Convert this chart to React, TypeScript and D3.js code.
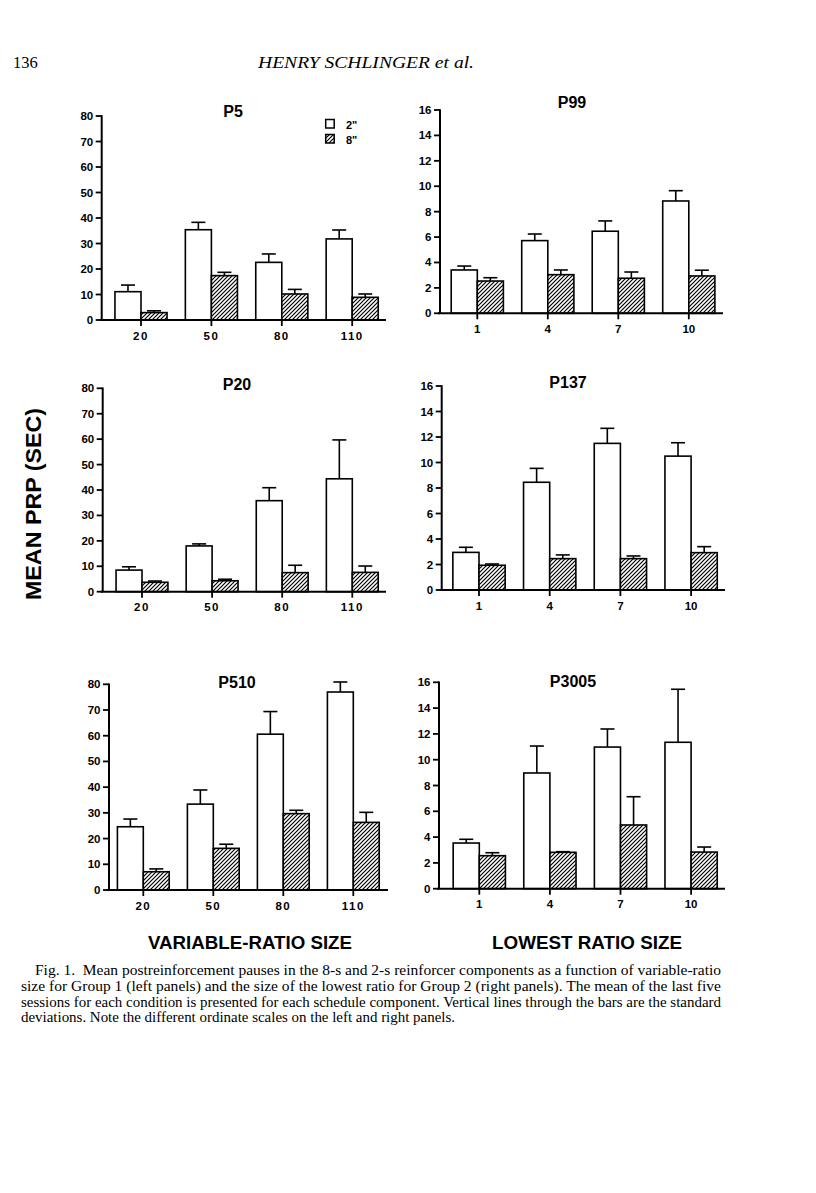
import React from "react";
import * as d3 from "d3";

const leftCategories = ["20", "50", "80", "110"];
const rightCategories = ["1", "4", "7", "10"];
const leftTicks = [0, 10, 20, 30, 40, 50, 60, 70, 80];
const rightTicks = [0, 2, 4, 6, 8, 10, 12, 14, 16];
const seriesNames = ['2"', '8"'];

const p5Mean2 = [11.1, 35.4, 22.6, 31.8];
const p5Sd2 = [2.6, 2.9, 3.3, 3.5];
const p5Mean8 = [2.9, 17.4, 10.2, 8.9];
const p5Sd8 = [0.7, 1.3, 1.8, 1.3];

const p99Mean2 = [3.41, 5.72, 6.46, 8.84];
const p99Sd2 = [0.31, 0.52, 0.81, 0.81];
const p99Mean8 = [2.54, 3.04, 2.76, 2.94];
const p99Sd8 = [0.26, 0.37, 0.49, 0.45];

const p20Mean2 = [8.5, 18.0, 35.8, 44.4];
const p20Sd2 = [1.3, 0.8, 5.1, 15.3];
const p20Mean8 = [3.7, 4.3, 7.5, 7.6];
const p20Sd8 = [0.5, 0.6, 2.9, 2.5];

const p137Mean2 = [2.95, 8.45, 11.5, 10.5];
const p137Sd2 = [0.4, 1.09, 1.18, 1.05];
const p137Mean8 = [1.94, 2.46, 2.46, 2.93];
const p137Sd8 = [0.1, 0.29, 0.21, 0.47];

const p510Mean2 = [24.6, 33.4, 60.6, 77.0];
const p510Sd2 = [3.0, 5.5, 8.8, 3.9];
const p510Mean8 = [7.1, 16.2, 29.7, 26.3];
const p510Sd8 = [1.1, 1.6, 1.3, 3.9];

const p3005Mean2 = [3.54, 8.97, 10.98, 11.35];
const p3005Sd2 = [0.29, 2.09, 1.4, 4.11];
const p3005Mean8 = [2.56, 2.82, 4.94, 2.84];
const p3005Sd8 = [0.23, 0.05, 2.19, 0.39];

const captionLines = [
  "Fig. 1.  Mean postreinforcement pauses in the 8-s and 2-s reinforcer components as a function of variable-ratio",
  "size for Group 1 (left panels) and the size of the lowest ratio for Group 2 (right panels). The mean of the last five",
  "sessions for each condition is presented for each schedule component. Vertical lines through the bars are the standard",
  "deviations. Note the different ordinate scales on the left and right panels.",
];

const SANS = "'Liberation Sans', Arial, Helvetica, sans-serif";
const SERIF = "'Liberation Serif', 'Times New Roman', serif";

type PanelDef = {
  title: string;
  cats: string[];
  ticks: number[];
  max: number;
  m2: number[]; s2: number[]; m8: number[]; s8: number[];
  axisX: number; y0: number; yTop: number; c0: number; step: number; xEnd: number;
  titleX: number; titleY: number; legend?: boolean;
};

const panels: PanelDef[] = [
  { title: "P5", cats: leftCategories, ticks: leftTicks, max: 80, m2: p5Mean2, s2: p5Sd2, m8: p5Mean8, s8: p5Sd8,
    axisX: 101.7, y0: 320, yTop: 116, c0: 141, step: 70.4, xEnd: 386, titleX: 233, titleY: 117, legend: true },
  { title: "P99", cats: rightCategories, ticks: rightTicks, max: 16, m2: p99Mean2, s2: p99Sd2, m8: p99Mean8, s8: p99Sd8,
    axisX: 440, y0: 313.3, yTop: 110, c0: 477.3, step: 70.5, xEnd: 723, titleX: 572, titleY: 108 },
  { title: "P20", cats: leftCategories, ticks: leftTicks, max: 80, m2: p20Mean2, s2: p20Sd2, m8: p20Mean8, s8: p20Sd8,
    axisX: 102.7, y0: 591.7, yTop: 388.3, c0: 142, step: 70.1, xEnd: 386, titleX: 237, titleY: 390 },
  { title: "P137", cats: rightCategories, ticks: rightTicks, max: 16, m2: p137Mean2, s2: p137Sd2, m8: p137Mean8, s8: p137Sd8,
    axisX: 441.7, y0: 590, yTop: 386, c0: 479, step: 70.7, xEnd: 725, titleX: 568, titleY: 388 },
  { title: "P510", cats: leftCategories, ticks: leftTicks, max: 80, m2: p510Mean2, s2: p510Sd2, m8: p510Mean8, s8: p510Sd8,
    axisX: 109, y0: 890, yTop: 684.3, c0: 143.3, step: 70, xEnd: 388, titleX: 237, titleY: 688 },
  { title: "P3005", cats: rightCategories, ticks: rightTicks, max: 16, m2: p3005Mean2, s2: p3005Sd2, m8: p3005Mean8, s8: p3005Sd8,
    axisX: 439, y0: 888.7, yTop: 682.3, c0: 479.3, step: 70.6, xEnd: 725, titleX: 573, titleY: 687 },
];

function Panel({ p }: { p: PanelDef }) {
  const y = d3.scaleLinear().domain([0, p.max]).range([p.y0, p.yTop]);
  const x = d3
    .scaleBand<string>()
    .domain(p.cats)
    .range([p.c0 - p.step / 2, p.c0 + p.step * (p.cats.length - 0.5)])
    .paddingInner(0.26)
    .paddingOuter(0.13);
  const bw = x.bandwidth() / 2;
  const cap = 7;
  const sw = 1.6;
  const bars: any[] = [];
  p.cats.forEach((c, i) => {
    const bx = x(c)!;
    [
      { m: p.m2[i], s: p.s2[i], fill: "#fff", off: 0 },
      { m: p.m8[i], s: p.s8[i], fill: "url(#hatch)", off: bw },
    ].forEach((b, j) => {
      const cx = bx + b.off + bw / 2;
      bars.push(
        <g key={c + j}>
          <line x1={cx} x2={cx} y1={y(b.m)} y2={y(b.m + b.s)} stroke="#000" strokeWidth={sw} />
          <line x1={cx - cap} x2={cx + cap} y1={y(b.m + b.s)} y2={y(b.m + b.s)} stroke="#000" strokeWidth={sw} />
          <rect x={bx + b.off} y={y(b.m)} width={bw} height={p.y0 - y(b.m)} fill={b.fill} stroke="#000" strokeWidth={sw} />
        </g>
      );
    });
  });
  return (
    <g>
      {bars}
      <line x1={p.axisX} x2={p.axisX} y1={p.yTop - 0.8} y2={p.y0} stroke="#000" strokeWidth={2} />
      <line x1={p.axisX - 2} x2={p.xEnd} y1={p.y0} y2={p.y0} stroke="#000" strokeWidth={2} />
      {p.ticks.map((t) => (
        <g key={t}>
          <line x1={p.axisX - 6} x2={p.axisX} y1={y(t)} y2={y(t)} stroke="#000" strokeWidth={1.8} />
          <text x={p.axisX - 8.5} y={y(t) + 4} textAnchor="end" fontFamily={SANS} fontWeight="bold" fontSize={11.5}>
            {t}
          </text>
        </g>
      ))}
      {p.cats.map((c) => {
        const cx = x(c)! + x.bandwidth() / 2;
        return (
          <g key={c}>
            <line x1={cx} x2={cx} y1={p.y0} y2={p.y0 + 6} stroke="#000" strokeWidth={1.8} />
            <text x={cx} y={p.y0 + 19.5} textAnchor="middle" fontFamily={SANS} fontWeight="bold" fontSize={11.5} letterSpacing={c.length > 1 && p.max === 80 ? 1.5 : 0}>
              {c}
            </text>
          </g>
        );
      })}
      <text x={p.titleX} y={p.titleY} textAnchor="middle" fontFamily={SANS} fontWeight="bold" fontSize={16}>
        {p.title}
      </text>
      {p.legend && (
        <g>
          <rect x={325.7} y={119.5} width={8.5} height={8.5} fill="#fff" stroke="#000" strokeWidth={1.5} />
          <rect x={325.7} y={134.5} width={8.5} height={8.5} fill="url(#hatch)" stroke="#000" strokeWidth={1.5} />
          <text x={346} y={128.5} fontFamily={SANS} fontWeight="bold" fontSize={11}>{seriesNames[0]}</text>
          <text x={346} y={143.5} fontFamily={SANS} fontWeight="bold" fontSize={11}>{seriesNames[1]}</text>
        </g>
      )}
    </g>
  );
}

export default function App() {
  return (
    <svg width={816} height={1193} style={{ position: "absolute", left: 0, top: 0, background: "#fff" }}>
      <defs>
        <pattern id="hatch" patternUnits="userSpaceOnUse" width={4} height={4}>
          <rect width={4} height={4} fill="#fff" />
          <path d="M-1,1 l2,-2 M0,4 l4,-4 M3,5 l2,-2" stroke="#000" strokeWidth={1.2} />
        </pattern>
      </defs>
      <rect width={816} height={1193} fill="#fff" />
      <text x={13} y={68} fontFamily={SERIF} fontSize={16.5}>136</text>
      <text x={258} y={68} fontFamily={SERIF} fontStyle="italic" fontSize={16.5} textLength={216} lengthAdjust="spacingAndGlyphs">
        HENRY SCHLINGER et al.
      </text>
      {panels.map((p) => (
        <Panel key={p.title} p={p} />
      ))}
      <text
        transform="translate(41,504) rotate(-90)"
        textAnchor="middle"
        fontFamily={SANS}
        fontWeight="bold"
        fontSize={22}
        textLength={192}
        lengthAdjust="spacingAndGlyphs"
      >
        MEAN PRP (SEC)
      </text>
      <text x={148} y={949} fontFamily={SANS} fontWeight="bold" fontSize={18} textLength={204} lengthAdjust="spacingAndGlyphs">
        VARIABLE-RATIO SIZE
      </text>
      <text x={492} y={949} fontFamily={SANS} fontWeight="bold" fontSize={18} textLength={190} lengthAdjust="spacingAndGlyphs">
        LOWEST RATIO SIZE
      </text>
      {captionLines.map((line, i) => {
        const x0 = i === 0 ? 35 : 21;
        const x1 = i === 3 ? 455 : 721;
        return (
          <text key={i} x={x0} y={975 + i * 15.8} fontFamily={SERIF} fontSize={13.8} textLength={x1 - x0} lengthAdjust="spacingAndGlyphs" style={{ whiteSpace: "pre" }}>
            {line}
          </text>
        );
      })}
    </svg>
  );
}
